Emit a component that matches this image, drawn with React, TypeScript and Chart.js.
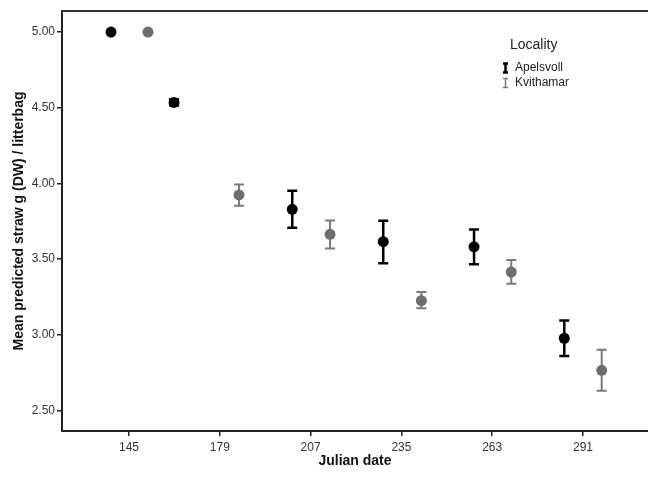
import React, { useEffect, useRef } from "react";
import { Chart, registerables } from "chart.js";

Chart.register(...registerables);

const xLabels = ["145", "179", "207", "235", "263", "291"];
const yTicks = [2.5, 3.0, 3.5, 4.0, 4.5, 5.0];

const apelsvollX = [-0.198, 0.496, 1.798, 2.8, 3.8, 4.794];
const apelsvollMean = [5.0, 4.535, 3.828, 3.614, 3.58, 2.976];
const apelsvollLow = [5.0, 4.515, 3.707, 3.471, 3.465, 2.859];
const apelsvollHigh = [5.0, 4.555, 3.951, 3.753, 3.695, 3.094];

const kvithamarX = [0.209, 1.211, 2.214, 3.22, 4.21, 5.206];
const kvithamarMean = [5.0, 3.923, 3.663, 3.224, 3.414, 2.764];
const kvithamarLow = [5.0, 3.852, 3.57, 3.174, 3.337, 2.629];
const kvithamarHigh = [5.0, 3.993, 3.755, 3.282, 3.493, 2.9];

const FONT = "'Liberation Sans', Arial, Helvetica, sans-serif";
const BLACK = "#000000";
const GRAY_MARK = "#6e6e6e";
const GRAY_BAR = "#7a7a7a";

const errorBarPlugin = {
  id: "errorBars",
  beforeDatasetsDraw(chart: any) {
    const { ctx, scales } = chart;
    const sx = scales.x;
    const sy = scales.y;
    const series = [
      { xs: apelsvollX, lo: apelsvollLow, hi: apelsvollHigh, color: BLACK, w: 2.5 },
      { xs: kvithamarX, lo: kvithamarLow, hi: kvithamarHigh, color: GRAY_BAR, w: 2 },
    ];
    ctx.save();
    for (const s of series) {
      ctx.strokeStyle = s.color;
      ctx.lineWidth = s.w;
      for (let i = 0; i < s.xs.length; i++) {
        if (s.hi[i] - s.lo[i] < 0.001) continue;
        const px = sx.getPixelForValue(s.xs[i]);
        const y1 = sy.getPixelForValue(s.lo[i]);
        const y2 = sy.getPixelForValue(s.hi[i]);
        ctx.beginPath();
        ctx.moveTo(px, y1);
        ctx.lineTo(px, y2);
        ctx.moveTo(px - 5, y1);
        ctx.lineTo(px + 5, y1);
        ctx.moveTo(px - 5, y2);
        ctx.lineTo(px + 5, y2);
        ctx.stroke();
      }
    }
    ctx.restore();
  },
  afterDraw(chart: any) {
    const { ctx, chartArea } = chart;
    ctx.save();
    // top frame line
    ctx.strokeStyle = "#333";
    ctx.lineWidth = 2;
    ctx.beginPath();
    ctx.moveTo(chartArea.left, chartArea.top);
    ctx.lineTo(chartArea.right, chartArea.top);
    ctx.stroke();
    // legend
    ctx.fillStyle = "#222";
    ctx.textBaseline = "middle";
    ctx.textAlign = "left";
    ctx.font = `14px ${FONT}`;
    ctx.fillText("Locality", 510, 45);
    ctx.font = `12px ${FONT}`;
    const items = [
      { label: "Apelsvoll", color: BLACK, y: 68, w: 2.5 },
      { label: "Kvithamar", color: GRAY_BAR, y: 83, w: 1.5 },
    ];
    for (const it of items) {
      ctx.strokeStyle = it.color;
      ctx.lineWidth = it.w;
      const cx = 505.5;
      ctx.beginPath();
      ctx.moveTo(cx, it.y - 4.5);
      ctx.lineTo(cx, it.y + 4.5);
      ctx.moveTo(cx - 2.5, it.y - 4.5);
      ctx.lineTo(cx + 2.5, it.y - 4.5);
      ctx.moveTo(cx - 2.5, it.y + 4.5);
      ctx.lineTo(cx + 2.5, it.y + 4.5);
      ctx.stroke();
      ctx.fillStyle = "#222";
      ctx.fillText(it.label, 515, it.y);
    }
    ctx.restore();
  },
};

export default function App() {
  const ref = useRef<HTMLCanvasElement | null>(null);

  useEffect(() => {
    document.body.style.margin = "0";
    if (!ref.current) return;
    const chart = new Chart(ref.current, {
      type: "scatter",
      data: {
        datasets: [
          {
            label: "Apelsvoll",
            data: apelsvollX.map((x, i) => ({ x, y: apelsvollMean[i] })),
            backgroundColor: BLACK,
            borderColor: BLACK,
            pointRadius: 5.5,
            borderWidth: 0,
          },
          {
            label: "Kvithamar",
            data: kvithamarX.map((x, i) => ({ x, y: kvithamarMean[i] })),
            backgroundColor: GRAY_MARK,
            borderColor: GRAY_MARK,
            pointRadius: 5.5,
            borderWidth: 0,
          },
        ],
      },
      options: {
        animation: false,
        responsive: false,
        layout: { autoPadding: false, padding: { top: 11, right: 0, left: 0, bottom: 0 } },
        plugins: {
          legend: { display: false },
          tooltip: { enabled: false },
        },
        scales: {
          x: {
            type: "linear",
            min: -0.738,
            max: 5.716,
            afterBuildTicks: (scale: any) => {
              scale.ticks = xLabels.map((_, i) => ({ value: i }));
            },
            afterFit: (scale: any) => {
              scale.height = 49;
            },
            ticks: {
              callback: (v: any) => xLabels[Math.round(Number(v))] ?? "",
              font: { size: 12, family: FONT },
              color: "#333",
              padding: 4,
              maxRotation: 0,
              autoSkip: false,
            },
            grid: {
              drawOnChartArea: false,
              drawTicks: true,
              tickLength: 5,
              color: "#222",
              lineWidth: 1.5,
            },
            border: { display: true, color: "#222", width: 2 },
            title: {
              display: true,
              text: "Julian date",
              font: { size: 14, weight: "bold", family: FONT },
              color: "#111",
              padding: { top: 0, bottom: 10 },
            },
          },
          y: {
            type: "linear",
            min: 2.363,
            max: 5.139,
            afterBuildTicks: (scale: any) => {
              scale.ticks = yTicks.map((v) => ({ value: v }));
            },
            afterFit: (scale: any) => {
              scale.width = 62;
            },
            ticks: {
              callback: (v: any) => Number(v).toFixed(2),
              font: { size: 12, family: FONT },
              color: "#333",
              padding: 2,
            },
            grid: {
              drawOnChartArea: false,
              drawTicks: true,
              tickLength: 5,
              color: "#222",
              lineWidth: 1.5,
            },
            border: { display: true, color: "#222", width: 2 },
            title: {
              display: true,
              text: "Mean predicted straw g (DW) / litterbag",
              font: { size: 14, weight: "bold", family: FONT },
              color: "#111",
              padding: { top: 11, bottom: 0 },
            },
          },
        },
      },
      plugins: [errorBarPlugin],
    });
    return () => chart.destroy();
  }, []);

  return (
    <div style={{ width: 648, height: 480 }}>
      <canvas ref={ref} width={648} height={480} style={{ display: "block" }} />
    </div>
  );
}
